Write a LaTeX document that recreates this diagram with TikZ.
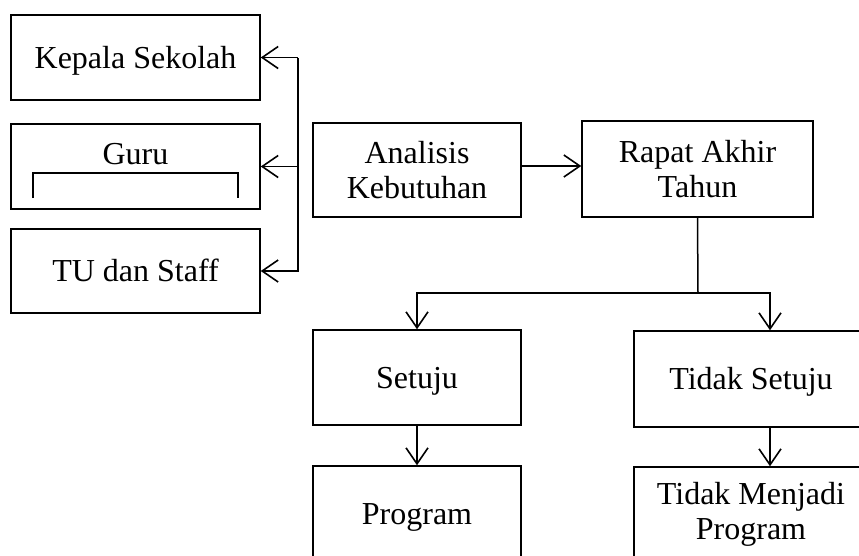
\documentclass[tikz,border=0pt]{standalone}
\usepackage{fontspec}
\setmainfont{Liberation Serif}
\usetikzlibrary{
  arrows.meta,
}

\begin{document}
\begin{tikzpicture}[
  x=1pt, y=-1pt,
  line width=1.5pt,
  every node/.style={font=\fontsize{32}{35}\selectfont},
  box/.style={draw, line width=1.5pt, align=center, inner sep=0pt},
  oneline/.style={text height=28.5pt, text depth=7pt},
  link/.style={-{Straight Barb[length=16pt, width=22pt, line width=1.6pt]}},
]
\useasboundingbox (0,0) rectangle (859,555);
\clip (0,0) rectangle (859,555);

% staff on the left
\node[box, oneline, minimum width=249, minimum height=85] (kepala) at (135.5,57.5) {Kepala Sekolah};
\node[box, minimum width=249, minimum height=85] (guru) at (135.5,166.5) {};
\node[anchor=base, inner sep=0pt] (gurutext) at (135.5,164) {Guru};
\node[box, oneline, minimum width=249, minimum height=84] (tu) at (135.5,271) {TU dan Staff};
\draw (33,198) -- (33,173) -- (238,173) -- (238,198);

\coordinate (bustop) at (298,58);
\coordinate (busbot) at (298,272);
\draw (bustop) -- (busbot);
\foreach \n in {kepala, guru, tu}
  \draw[link] (bustop |- \n.east) -- (\n.east);

% flow
\node[box, minimum width=208, minimum height=94] (analisis) at (417,170) {Analisis\\Kebutuhan};
\node[box, minimum width=231, minimum height=96] (rapat) at (697.5,169) {Rapat Akhir\\Tahun};
\node[box, oneline, minimum width=208, minimum height=95] (setuju) at (417,377.5) {Setuju};
\node[box, oneline, minimum width=234, minimum height=96] (tidak) at (751,379) {Tidak Setuju};
\node[box, oneline, minimum width=208, minimum height=95] (program) at (417,513.5) {Program};
\node[box, minimum width=234, minimum height=95] (menjadi) at (751,514.5) {Tidak Menjadi\\Program};

\draw[link] ([yshift=4]analisis.east) -- ([yshift=4]analisis.east -| rapat.west);

\coordinate (split) at (698,293);
\draw (rapat.south) -- (split);
\draw[link] (split) -| (setuju.north);
\draw[link] (split) -| ([xshift=19]tidak.north);
\draw[link] (setuju) -- (program);
\draw[link] ([xshift=19]tidak.south) -- ([xshift=19]tidak.south |- menjadi.north);
\end{tikzpicture}
\end{document}
